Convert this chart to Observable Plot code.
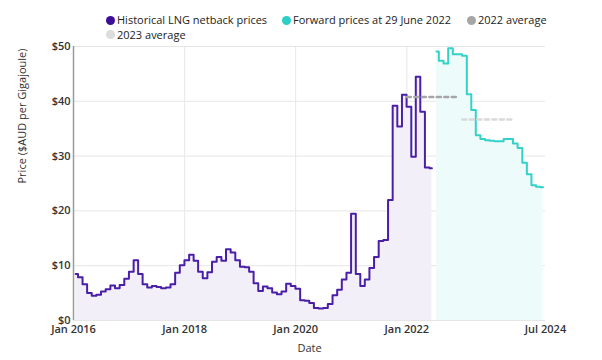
<!DOCTYPE html>
<html><head><meta charset="utf-8">
<script src="https://cdn.jsdelivr.net/npm/d3@7"></script>
<script src="https://cdn.jsdelivr.net/npm/@observablehq/plot@0.6"></script>
<style>
body{margin:0;background:#fff;font-family:"Open Sans",sans-serif;}
#legend{position:relative;height:34px;width:602px;font-size:11px;color:#222;}
.item{position:absolute;display:flex;align-items:center;white-space:nowrap;line-height:14px;}
.dot{width:9px;height:9px;border-radius:50%;margin-right:2px;}
svg{overflow:visible;}
</style></head><body>
<div id="legend"></div>
<div id="chart"></div>
<script>
// Historical LNG netback prices, monthly from Jan 2016 to Jun 2022 ($AUD/GJ)
const histStart = "2016-01";
const histValues = [
  8.5, 7.9, 6.6, 5.0, 4.5, 4.7, 5.3, 5.7, 6.4, 5.9, 6.5, 7.6,
  8.9, 11.0, 8.5, 6.6, 6.0, 6.3, 6.1, 5.9, 6.0, 6.6, 8.7, 10.1,
  11.0, 12.0, 10.9, 8.9, 7.7, 8.8, 10.7, 11.6, 10.9, 13.0, 12.4, 11.0,
  9.8, 9.7, 8.9, 6.8, 5.4, 6.2, 5.9, 5.1, 4.8, 5.3, 6.7, 6.3,
  5.8, 3.7, 3.6, 3.2, 2.3, 2.2, 2.3, 3.0, 4.6, 5.6, 7.5, 8.7,
  19.5, 8.5, 6.3, 7.5, 9.6, 11.6, 14.5, 14.7, 22.0, 39.2, 35.4, 41.2,
  39.0, 29.9, 44.5, 38.1, 27.9, 27.8
];
// Forward prices at 29 June 2022, monthly from Jul 2022 to Jun 2024
const fwdStart = "2022-07";
const fwdValues = [
  49.1, 47.4, 46.9, 49.7, 48.6, 48.6,
  48.3, 41.3, 38.4, 33.8, 33.1, 32.9, 32.8, 32.7, 32.7, 33.1, 33.1, 32.3,
  31.5, 28.8, 26.7, 24.7, 24.4, 24.3
];
const avgYears = [2022, 2023];
const avgValues = [40.8, 36.7];
const yTicks = [0, 10, 20, 30, 40, 50];
const xTicks = ["2016-01-01", "2018-01-01", "2020-01-01", "2022-01-01", "2024-07-01"];
const xDomain = ["2016-01-01", "2024-07-01"];
const seriesNames = ["Historical LNG netback prices", "Forward prices at 29 June 2022", "2022 average", "2023 average"];
const seriesColors = ["#4a1fa8", "#33d2c8", "#a6a6a6", "#d9d9d9"];
const legendDot = ["#3d0f99", "#2ccfc6", "#a6a6a6", "#dcdcdc"];
const fillColors = ["#f2eff9", "#eefbfb"];

// legend
const legendPos = [[106, 13], [282, 13], [467, 13], [106, 27.5]];
const lg = document.getElementById("legend");
seriesNames.forEach((n, i) => {
  const it = document.createElement("div");
  it.className = "item";
  it.style.left = legendPos[i][0] + "px";
  it.style.top = legendPos[i][1] + "px";
  it.innerHTML = `<span class="dot" style="background:${legendDot[i]}"></span><span>${n}</span>`;
  lg.appendChild(it);
});

const parseM = d3.utcParse("%Y-%m");
const monthly = (start, vals) => vals.map((v, i) => ({
  date: d3.utcDay.offset(d3.utcMonth.offset(parseM(start), i), 14),
  value: v
}));
const hist = monthly(histStart, histValues);
const fwd = monthly(fwdStart, fwdValues);
const avgLines = avgYears.map((yr, i) => [
  {date: new Date(Date.UTC(yr, 0, 1)), value: avgValues[i], i},
  {date: new Date(Date.UTC(yr, 11, 1)), value: avgValues[i], i}
]);

const chart = Plot.plot({
  width: 602, height: 326,
  marginLeft: 73, marginRight: 57, marginTop: 12, marginBottom: 40,
  style: {fontFamily: "Open Sans", fontSize: "11px", color: "#333", background: "white", overflow: "visible"},
  x: {type: "utc", domain: xDomain.map(d => new Date(d))},
  y: {domain: [0, 50]},
  marks: [
    Plot.ruleY(yTicks, {stroke: "#e6e6e6", strokeWidth: 1}),
    Plot.ruleX(xTicks.slice(1, -1).map(d => new Date(d)), {stroke: "#e6e6e6", strokeWidth: 1}),
    Plot.areaY(hist, {x: "date", y: "value", curve: "step", fill: fillColors[0]}),
    Plot.areaY(fwd, {x: "date", y: "value", curve: "step", fill: fillColors[1]}),
    Plot.line(hist, {x: "date", y: "value", curve: "step", stroke: seriesColors[0], strokeWidth: 2}),
    Plot.line(fwd, {x: "date", y: "value", curve: "step", stroke: seriesColors[1], strokeWidth: 2}),
    ...avgLines.map((pts, i) => Plot.line(pts, {x: "date", y: "value", stroke: seriesColors[2 + i], strokeWidth: 2.5, strokeDasharray: "4,3.5"})),
    Plot.ruleX([new Date(xDomain[0])], {stroke: "#9a9a9a", strokeWidth: 1.5}),
    Plot.axisY({ticks: yTicks, tickFormat: d => "$" + d, tickSize: 0, tickPadding: 3, fontWeight: 600, label: null}),
    Plot.axisX({ticks: xTicks.map(d => new Date(d)), tickFormat: d3.utcFormat("%b %Y"), tickSize: 0, tickPadding: 5, fontWeight: 600, label: null}),
    Plot.text(["Date"], {frameAnchor: "bottom", dy: 31, fontSize: 11, fill: "#333"}),
    Plot.text(["Price ($AUD per Gigajoule)"], {frameAnchor: "left", dx: -51, rotate: -90, fontSize: 11, fill: "#333"})
  ]
});
document.getElementById("chart").appendChild(chart);
</script>
</body></html>
